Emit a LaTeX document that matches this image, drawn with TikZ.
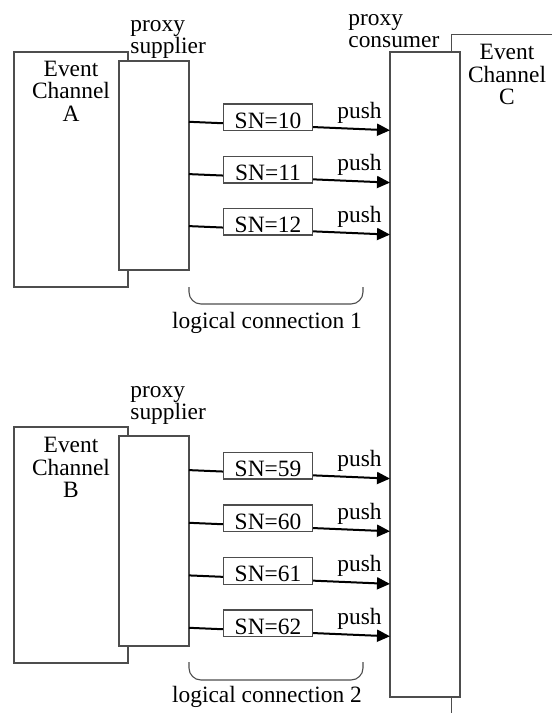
\documentclass[tikz,border=0pt]{standalone}
\usepackage{fontspec}
\setmainfont{Liberation Serif}
\usetikzlibrary{arrows.meta}
\definecolor{linegray}{HTML}{4D4D4D}
\begin{document}
\begin{tikzpicture}[x=0.5pt,y=-0.5pt,
  every node/.style={font=\fontsize{11.7pt}{11.25pt}\selectfont},
  frame/.style={draw=linegray, line width=0.55pt, fill=white, inner sep=0pt},
  lbl/.style={inner sep=0pt},
  snbox/.style={draw=linegray, line width=0.55pt, fill=white, minimum width=44.5pt,
    text height=10.95pt, text depth=0pt, inner xsep=0pt, inner ysep=1.2pt, anchor=base},
  pushline/.style={line width=1pt, black, -{Triangle[length=6.5pt,width=6pt]}},
  bracket/.style={draw=linegray, line width=0.55pt, rounded corners=6pt}]
\useasboundingbox (0,0) rectangle (552,713);
% Event channel C (behind proxy consumer)
\node[frame, anchor=north west, minimum width=60pt, minimum height=350pt] (chC) at (451,34) {};
\node[frame, minimum width=35pt, minimum height=322.5pt] (cons) at (425,374.5) {};
% Event channel A and its proxy supplier
\node[frame, minimum width=57pt, minimum height=117.5pt] (chA) at (71,169.5) {};
\node[frame, minimum width=35pt, minimum height=104.5pt] (supA) at (154,165.5) {};
% Event channel B and its proxy supplier
\node[frame, minimum width=57pt, minimum height=118pt] (chB) at (71,545) {};
\node[frame, minimum width=35pt, minimum height=105pt] (supB) at (154,541) {};
% labels
\node[lbl, anchor=north, align=center] (chAl) at (71,60.5) {Event\\Channel\\A};
\node[lbl, anchor=north, align=center] (chBl) at (71,437) {Event\\Channel\\B};
\node[lbl, anchor=north, align=center] (chCl) at (507,44) {Event\\Channel\\C};
\node[lbl, anchor=north west, align=left] (psAl) at (130,20) {proxy\\supplier};
\node[lbl, anchor=north west, align=left] (psBl) at (130,386) {proxy\\supplier};
\node[lbl, anchor=north west, align=left] (pcl) at (348,14) {proxy\\consumer};
% push rows
\foreach \i/\b/\n in {A1/128.3/10, A2/180.6/11, A3/232.6/12,
                      B1/476.6/59, B2/529.3/60, B3/581.9/61, B4/634.3/62}{
  \coordinate (s\i) at (189,{\b-6.5});
  \coordinate (t\i) at (390,{\b+2});
  \draw[pushline] (s\i) -- (t\i);
  \node[snbox] (sn\i) at (268,\b) {SN=\n};
  \node[lbl, anchor=base east] (p\i) at (382,{\b-10}) {push};
}
% logical connections
\draw[bracket] (189,287) -- (189,304) -- (363,304) -- (363,287);
\node[lbl, anchor=base] (lc1) at (267,328) {logical connection 1};
\draw[bracket] (189,662) -- (189,680) -- (363,680) -- (363,662);
\node[lbl, anchor=base] (lc2) at (267,702) {logical connection 2};
\end{tikzpicture}
\end{document}
